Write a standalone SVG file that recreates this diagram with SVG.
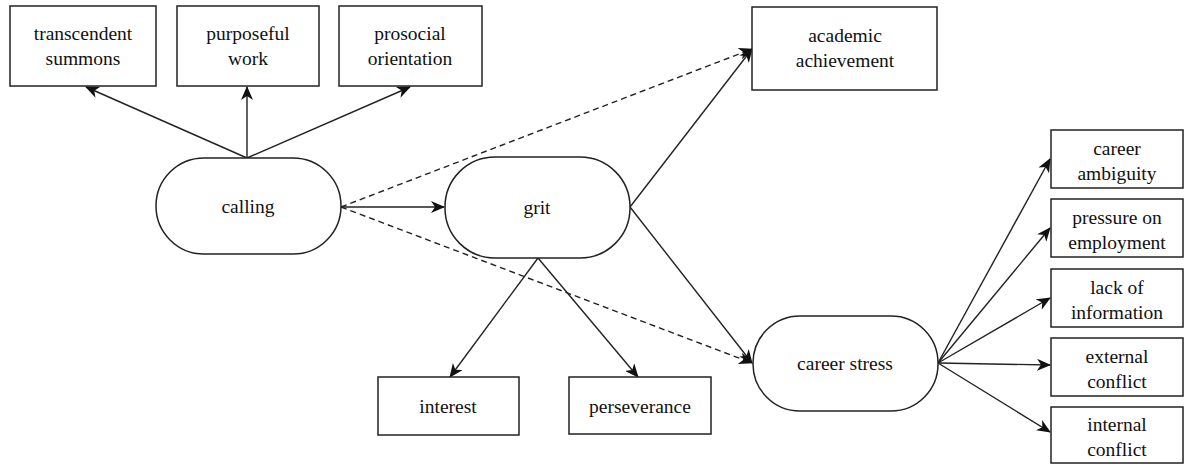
<svg xmlns="http://www.w3.org/2000/svg" width="1186" height="465" viewBox="0 0 1186 465">
<defs>
<style>
.box{fill:#fff;stroke:#222;stroke-width:1.5}
text{font-family:'Liberation Serif','DejaVu Serif','Times New Roman',Times,serif;font-size:19.5px;fill:#111;text-anchor:middle}
.c{fill:none;stroke:#222;stroke-width:1.4}
.d{stroke-dasharray:6 4}
</style>
<marker id="ah" viewBox="0 0 14 12" refX="13" refY="6" markerWidth="14" markerHeight="12" markerUnits="userSpaceOnUse" orient="auto">
<path d="M0,0 L14,6 L0,12 L4,6 z" fill="#111"/>
</marker>
</defs>
<rect width="1186" height="465" fill="#fff"/>
<g id="connectors">
<path class="c" d="M247,158 L86,87" marker-end="url(#ah)"/>
<path class="c" d="M247,158 L247,87" marker-end="url(#ah)"/>
<path class="c" d="M247,158 L410,87" marker-end="url(#ah)"/>
<path class="c" d="M341,207 L444,207" marker-end="url(#ah)"/>
<path class="c d" d="M341,207 L752,49" marker-end="url(#ah)"/>
<path class="c d" d="M341,207 L752,363" marker-end="url(#ah)"/>
<path class="c" d="M630,207 L752,49" marker-end="url(#ah)"/>
<path class="c" d="M630,207 L752,363" marker-end="url(#ah)"/>
<path class="c" d="M538,258 L450,377" marker-end="url(#ah)"/>
<path class="c" d="M538,258 L638,377" marker-end="url(#ah)"/>
<path class="c" d="M938,363 L1050,159" marker-end="url(#ah)"/>
<path class="c" d="M938,363 L1050,228" marker-end="url(#ah)"/>
<path class="c" d="M938,363 L1050,298" marker-end="url(#ah)"/>
<path class="c" d="M938,363 L1050,365" marker-end="url(#ah)"/>
<path class="c" d="M938,363 L1050,432" marker-end="url(#ah)"/>
</g>
<g font-family="Liberation Serif, DejaVu Serif, serif">
<g id="transcendent-summons"><rect class="box" x="10" y="6" width="146" height="80"/><text x="83" y="40">transcendent</text><text x="83" y="65">summons</text></g>
<g id="purposeful-work"><rect class="box" x="177" y="6" width="142" height="80"/><text x="248" y="40">purposeful</text><text x="248" y="65">work</text></g>
<g id="prosocial-orientation"><rect class="box" x="339" y="6" width="143" height="80"/><text x="410" y="40">prosocial</text><text x="410" y="65">orientation</text></g>
<g id="academic-achievement"><rect class="box" x="752" y="7" width="185" height="83"/><text x="845" y="42">academic</text><text x="845" y="67">achievement</text></g>
<g id="calling"><rect class="box" x="156" y="158" width="185" height="96" rx="48" ry="48"/><text x="248" y="213">calling</text></g>
<g id="grit"><rect class="box" x="445" y="157" width="185" height="101" rx="50" ry="50"/><text x="537" y="214">grit</text></g>
<g id="interest"><rect class="box" x="378" y="377" width="141" height="58"/><text x="448" y="413">interest</text></g>
<g id="perseverance"><rect class="box" x="569" y="377" width="142" height="57"/><text x="640" y="413">perseverance</text></g>
<g id="career-stress"><rect class="box" x="753" y="316" width="185" height="95" rx="47" ry="47"/><text x="845" y="370">career stress</text></g>
<g id="career-ambiguity"><rect class="box" x="1051" y="130" width="132" height="58"/><text x="1117" y="155">career</text><text x="1117" y="180">ambiguity</text></g>
<g id="pressure-on-employment"><rect class="box" x="1051" y="199" width="132" height="58"/><text x="1117" y="224">pressure on</text><text x="1117" y="249">employment</text></g>
<g id="lack-of-information"><rect class="box" x="1051" y="269" width="132" height="58"/><text x="1117" y="294">lack of</text><text x="1117" y="319">information</text></g>
<g id="external-conflict"><rect class="box" x="1051" y="338" width="132" height="58"/><text x="1117" y="363">external</text><text x="1117" y="388">conflict</text></g>
<g id="internal-conflict"><rect class="box" x="1051" y="407" width="132" height="56"/><text x="1117" y="431">internal</text><text x="1117" y="456">conflict</text></g>
</g>
</svg>
